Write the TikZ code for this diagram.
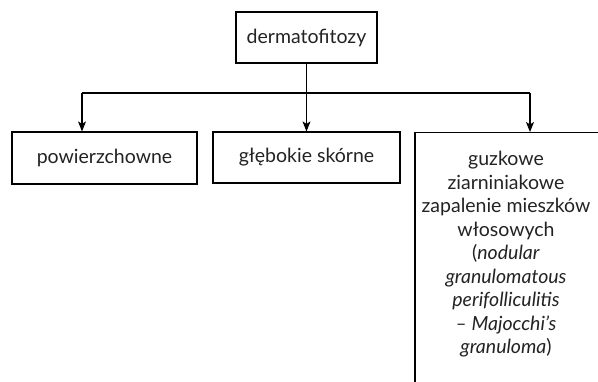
\documentclass[tikz,border=0pt]{standalone}
\usepackage{fontspec}
\setmainfont{Lato}
\usetikzlibrary{arrows.meta}
\definecolor{txt}{RGB}{35,35,35}
\begin{document}
\begin{tikzpicture}[x=1pt,y=-1pt,
  every node/.style={font=\fontsize{19.5}{23.5}\selectfont, text=txt},
  box/.style={draw=black, line width=1.2pt, rectangle, inner sep=0pt, align=center},
  conn/.style={draw=black, line width=1.2pt},
  arr/.style={conn, -{Stealth[length=10pt,width=8pt,inset=2.5pt]}}]
\clip (0,0) rectangle (598,382);
\fill[white] (0,0) rectangle (598,382);
\node[box, minimum width=141pt, minimum height=51pt] (top) at (306.5,37.5) {dermatofitozy};
\node[box, minimum width=185pt, minimum height=52pt] (b1) at (104.5,158) {powierzchowne};
\node[box, minimum width=187pt, minimum height=51pt] (b2) at (306.5,157.5) {głębokie skórne};
\node[box, minimum width=184pt, minimum height=280pt, anchor=north] (b3) at (507,132) {};
\node[align=center, anchor=north] (t3) at (506,148) {guzkowe\\ziarniniakowe\\zapalenie mieszków\\włosowych\\(\textit{nodular}\\\textit{granulomatous}\\\textit{perifolliculitis}\\\textit{– Majocchi’s}\\\textit{granuloma})};
\coordinate (j) at (306.5,93);
\draw[conn] (top.south) -- (j);
\draw[conn] ([xshift=-22.5pt]b1.north |- j) -- ([xshift=23pt]b3.north |- j);
\draw[arr] (j) -- (b2.north);
\draw[arr] ([xshift=-22.5pt]b1.north |- j) -- ([xshift=-22.5pt]b1.north);
\draw[arr] ([xshift=23pt]b3.north |- j) -- ([xshift=23pt]b3.north);
\end{tikzpicture}
\end{document}
